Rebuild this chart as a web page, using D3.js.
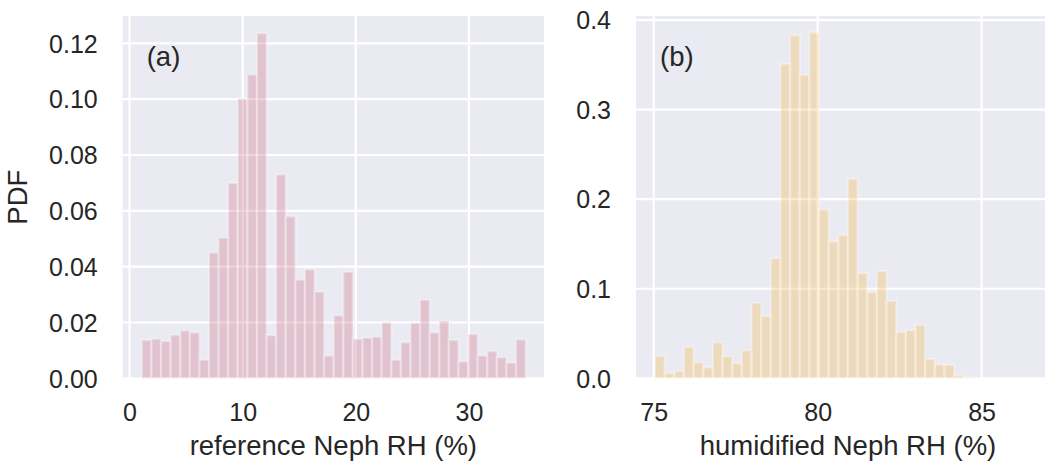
<!DOCTYPE html>
<html>
<head>
<meta charset="utf-8">
<script src="https://cdn.jsdelivr.net/npm/d3@7"></script>
<style>
  html, body { margin: 0; padding: 0; background: #ffffff; }
  svg { display: block; }
  text { font-family: "Liberation Sans", Arial, sans-serif; fill: #262626; }
</style>
</head>
<body>
<svg id="fig" width="1045" height="462"></svg>
<script>
// Histogram (a): reference nephelometer RH, 40 bins
const refBinStart = 1.09;
const refBinWidth = 0.848;
const refPdf = [
  0.0137, 0.0141, 0.0133, 0.0155, 0.0171, 0.0164, 0.0066, 0.0450, 0.0503, 0.0699,
  0.1002, 0.1088, 0.1236, 0.0154, 0.0730, 0.0580, 0.0353, 0.0390, 0.0310, 0.0081,
  0.0225, 0.0381, 0.0141, 0.0145, 0.0149, 0.0200, 0.0066, 0.0129, 0.0198, 0.0281,
  0.0164, 0.0206, 0.0137, 0.0060, 0.0158, 0.0081, 0.0097, 0.0075, 0.0056, 0.0139
];
const refXTicks = [0, 10, 20, 30];
const refYTicks = [0, 0.02, 0.04, 0.06, 0.08, 0.10, 0.12];

// Histogram (b): humidified nephelometer RH, 40 bins
const humBinStart = 75.04;
const humBinWidth = 0.2942;
const humPdf = [
  0.0249, 0.0056, 0.0078, 0.0349, 0.0178, 0.0123, 0.0401, 0.0245, 0.0167, 0.0312,
  0.0840, 0.0695, 0.1341, 0.3508, 0.3827, 0.3386, 0.3861, 0.1884, 0.1527, 0.1598,
  0.2226, 0.1174, 0.0962, 0.1196, 0.0862, 0.0516, 0.0538, 0.0594, 0.0215, 0.0156,
  0.0149, 0.0033, 0.0010, 0, 0, 0, 0, 0, 0, 0
];
const humXTicks = [75, 80, 85];
const humYTicks = [0, 0.1, 0.2, 0.3, 0.4];

const svg = d3.select("#fig");

const TICK_FONT = 25;
const LABEL_FONT = 27.5;

function panel(opts) {
  const { left, right, top, bottom, xDomain, yDomain, start, width, values,
          xTicks, yTicks, yFmt, color, tag, xLabel, yLabel } = opts;
  const x = d3.scaleLinear().domain(xDomain).range([left, right]);
  const y = d3.scaleLinear().domain(yDomain).range([bottom, top]);
  const g = svg.append("g");

  g.append("rect")
    .attr("x", left).attr("y", top)
    .attr("width", right - left).attr("height", bottom - top)
    .attr("fill", "#eaeaf2");

  // grid
  g.append("g").selectAll("line").data(yTicks).join("line")
    .attr("x1", left).attr("x2", right)
    .attr("y1", d => y(d)).attr("y2", d => y(d))
    .attr("stroke", "#ffffff").attr("stroke-width", 2.2);
  g.append("g").selectAll("line").data(xTicks).join("line")
    .attr("x1", d => x(d)).attr("x2", d => x(d))
    .attr("y1", top).attr("y2", bottom)
    .attr("stroke", "#ffffff").attr("stroke-width", 2.2);

  // bars
  g.append("g").selectAll("rect").data(values).join("rect")
    .attr("x", (d, i) => x(start + i * width))
    .attr("width", (d, i) => x(start + (i + 1) * width) - x(start + i * width))
    .attr("y", d => y(d))
    .attr("height", d => y(0) - y(d))
    .attr("fill", color).attr("fill-opacity", 0.3)
    .attr("stroke", "#ffffff").attr("stroke-opacity", 0.3)
    .attr("stroke-width", 2.3);

  // axes (tick labels only, seaborn darkgrid style)
  const xAxis = d3.axisBottom(x).tickValues(xTicks).tickSize(0).tickPadding(0).tickFormat(d3.format("d"));
  const xa = g.append("g").attr("transform", `translate(0,${bottom})`).call(xAxis);
  xa.select(".domain").remove();
  xa.selectAll("text").attr("dy", null).attr("y", 43).attr("font-size", TICK_FONT).style("fill", "#262626");

  const yAxis = d3.axisLeft(y).tickValues(yTicks).tickSize(0).tickPadding(0).tickFormat(d3.format(yFmt));
  const ya = g.append("g").attr("transform", `translate(${left},0)`).call(yAxis);
  ya.select(".domain").remove();
  ya.selectAll("text").attr("x", -25).attr("dy", "0.35em").attr("font-size", TICK_FONT).style("fill", "#262626");

  g.append("text")
    .attr("x", (left + right) / 2).attr("y", 455)
    .attr("text-anchor", "middle").attr("font-size", LABEL_FONT)
    .text(xLabel);

  if (yLabel) {
    g.append("text")
      .attr("transform", `translate(27,${(top + bottom) / 2}) rotate(-90)`)
      .attr("text-anchor", "middle").attr("font-size", LABEL_FONT)
      .text(yLabel);
  }

  g.append("text")
    .attr("x", left + 24).attr("y", 66)
    .attr("font-size", LABEL_FONT)
    .text(tag);
}

panel({
  left: 122.7, right: 544, top: 16, bottom: 378.3,
  xDomain: [-0.601, 36.633], yDomain: [0, 0.1298],
  start: refBinStart, width: refBinWidth, values: refPdf,
  xTicks: refXTicks, yTicks: refYTicks, yFmt: ".2f",
  color: "#c96b7d", tag: "(a)", xLabel: "reference Neph RH (%)", yLabel: "PDF"
});

panel({
  left: 636, right: 1060, top: 16, bottom: 378.3,
  xDomain: [74.46, 87.39], yDomain: [0, 0.4045],
  start: humBinStart, width: humBinWidth, values: humPdf,
  xTicks: humXTicks, yTicks: humYTicks, yFmt: ".1f",
  color: "#f4b541", tag: "(b)", xLabel: "humidified Neph RH (%)", yLabel: null
});
</script>
</body>
</html>
